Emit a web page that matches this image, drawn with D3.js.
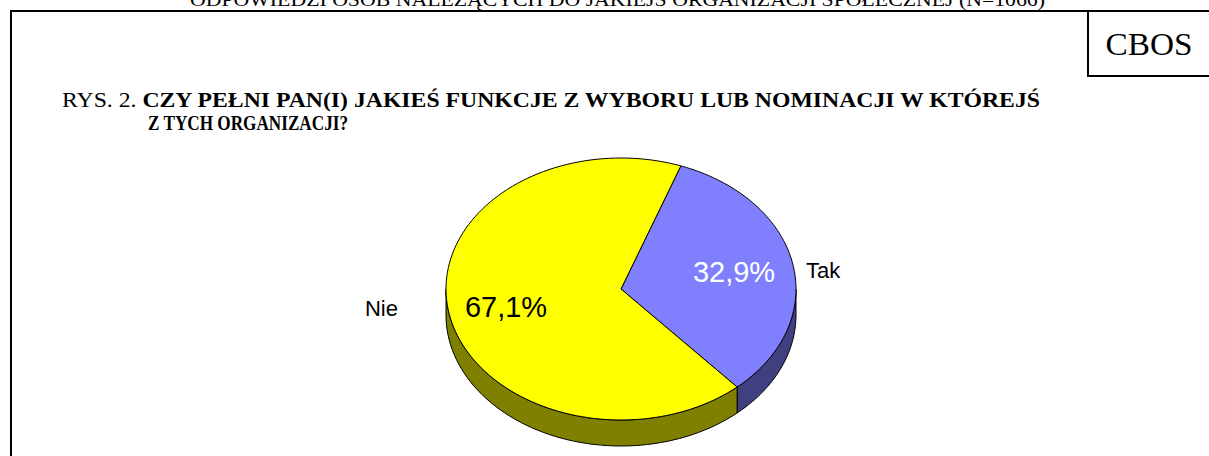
<!DOCTYPE html>
<html><head><meta charset="utf-8">
<script src="https://cdn.jsdelivr.net/npm/d3@7"></script>
<style>body{margin:0;background:#fff}svg{display:block}</style>
</head><body>
<svg id="c" width="1209" height="456"></svg>
<script>
const categories = ["Tak", "Nie"];
const values = [32.9, 67.1];
const valueLabels = ["32,9%", "67,1%"];
const topText = "ODPOWIEDZI OSÓB NALEŻĄCYCH DO JAKIEJŚ ORGANIZACJI SPOŁECZNEJ (N=1066)";
const titlePrefix = "RYS. 2. ";
const titleLine1 = "CZY PEŁNI PAN(I) JAKIEŚ FUNKCJE Z WYBORU LUB NOMINACJI W KTÓREJŚ";
const titleLine2 = "Z TYCH ORGANIZACJI?";
const brand = "CBOS";

const topColors = ["#8080FF", "#FFFF00"];
const sideColors = ["#404080", "#808000"];

const svg = d3.select("#c");
const serif = "'Liberation Serif','Times New Roman',serif";
const sans = "'Liberation Sans',Arial,sans-serif";

// frame
svg.append("text").attr("x", 190).attr("y", 6).attr("font-family", serif).attr("font-size", 18)
  .attr("textLength", 855).attr("lengthAdjust", "spacingAndGlyphs").text(topText);
svg.append("path").attr("d", "M11,456V11H1209").attr("fill", "none").attr("stroke", "#000").attr("stroke-width", 2);
svg.append("path").attr("d", "M1088,11V76H1209").attr("fill", "none").attr("stroke", "#000").attr("stroke-width", 2);
svg.append("text").attr("x", 1149).attr("y", 55).attr("text-anchor", "middle").attr("font-family", serif)
  .attr("font-size", 32).attr("textLength", 87).attr("lengthAdjust", "spacingAndGlyphs").text(brand);

// title
const t1 = svg.append("text").attr("x", 62).attr("y", 107).attr("font-family", serif).attr("font-size", 21)
  .attr("textLength", 978).attr("lengthAdjust", "spacingAndGlyphs");
t1.append("tspan").text(titlePrefix);
t1.append("tspan").attr("font-weight", "bold").text(titleLine1);
svg.append("text").attr("x", 148).attr("y", 130).attr("font-family", serif).attr("font-size", 21)
  .attr("font-weight", "bold").attr("textLength", 200).attr("lengthAdjust", "spacingAndGlyphs").text(titleLine2);

// pie
const cx = 621, cy = 289, rx = 175, ry = 131, depth = 26;
const startAngle = 20 * Math.PI / 180;
const pie = d3.pie().sort(null).startAngle(startAngle).endAngle(startAngle + 2 * Math.PI);
const arcs = pie(values);
const pt = (a, dy = 0) => [cx + rx * Math.sin(a), cy - ry * Math.cos(a) + dy];

const g = svg.append("g");
arcs.forEach((d, i) => {
  const lo = Math.PI / 2, hi = 3 * Math.PI / 2;
  const segs = [];
  for (const off of [0, -2 * Math.PI, 2 * Math.PI]) {
    const s = Math.max(d.startAngle + off, lo), e = Math.min(d.endAngle + off, hi);
    if (e > s) segs.push([s, e]);
  }
  segs.forEach(([s, e]) => {
    const n = 60, top = [], bot = [];
    for (let k = 0; k <= n; k++) {
      const a = s + (e - s) * k / n;
      top.push(pt(a)); bot.push(pt(a, depth));
    }
    const pts = top.concat(bot.reverse());
    g.append("path").attr("d", d3.line()(pts) + "Z").attr("fill", sideColors[i])
      .attr("stroke", "#000").attr("stroke-width", 1).attr("stroke-linejoin", "round");
  });
});
arcs.forEach((d, i) => {
  const n = 120, pts = [[cx, cy]];
  for (let k = 0; k <= n; k++) pts.push(pt(d.startAngle + (d.endAngle - d.startAngle) * k / n));
  g.append("path").attr("d", d3.line()(pts) + "Z").attr("fill", topColors[i])
    .attr("stroke", "#000").attr("stroke-width", 1).attr("stroke-linejoin", "round");
});

// labels
const valuePos = [[734, 282], [506, 317]];
const valueFill = ["#fff", "#000"];
arcs.forEach((d, i) => {
  svg.append("text").attr("x", valuePos[i][0]).attr("y", valuePos[i][1]).attr("text-anchor", "middle")
    .attr("font-family", sans).attr("font-size", 29).attr("fill", valueFill[i]).text(valueLabels[i]);
});
const catPos = [[806, 278, "start"], [398, 316, "end"]];
categories.forEach((c, i) => {
  svg.append("text").attr("x", catPos[i][0]).attr("y", catPos[i][1]).attr("text-anchor", catPos[i][2])
    .attr("font-family", sans).attr("font-size", 22).attr("fill", "#000").text(c);
});
</script>
</body></html>
